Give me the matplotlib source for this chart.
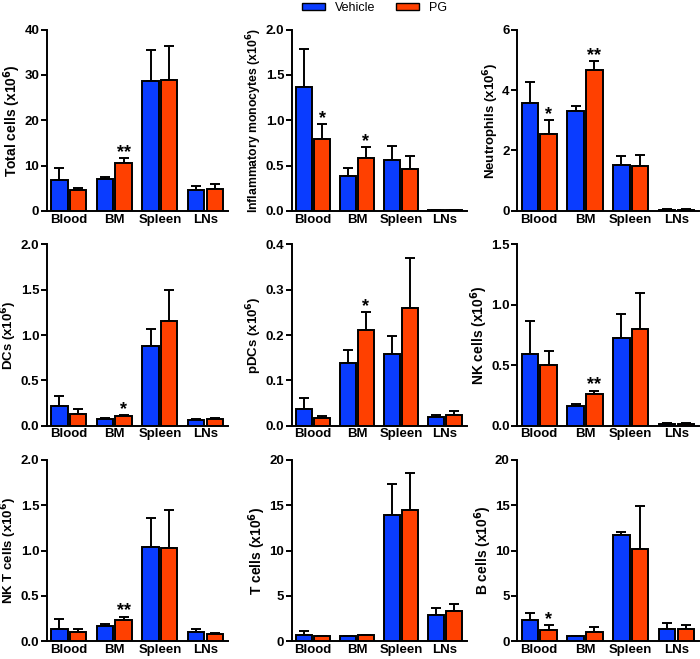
import matplotlib
matplotlib.use('Agg')
import matplotlib.pyplot as plt
import numpy as np
from matplotlib.patches import Patch

plt.rcParams['font.family'] = ['Liberation Sans', 'DejaVu Sans']
plt.rcParams['font.weight'] = 'bold'
plt.rcParams['axes.labelweight'] = 'bold'

tissues = ['Blood', 'BM', 'Spleen', 'LNs']
groups = ['Vehicle', 'PG']
veh_color = '#0a3cff'
pg_color = '#ff4000'

# means and SEM (x10^6 cells), order: Blood, BM, Spleen, LNs
total_veh = [6.9, 7.0, 28.7, 4.5]
total_veh_sem = [2.5, 0.5, 6.8, 1.0]
total_pg = [4.7, 10.6, 28.9, 4.9]
total_pg_sem = [0.25, 1.0, 7.6, 1.1]
total_stars = ['', '**', '', '']

mono_veh = [1.365, 0.38, 0.56, 0.005]
mono_veh_sem = [0.425, 0.09, 0.16, 0.003]
mono_pg = [0.79, 0.58, 0.46, 0.005]
mono_pg_sem = [0.17, 0.12, 0.15, 0.003]
mono_stars = ['*', '*', '', '']

neut_veh = [3.57, 3.3, 1.52, 0.035]
neut_veh_sem = [0.7, 0.18, 0.3, 0.015]
neut_pg = [2.55, 4.68, 1.5, 0.035]
neut_pg_sem = [0.45, 0.28, 0.35, 0.015]
neut_stars = ['*', '**', '', '']

dc_veh = [0.22, 0.078, 0.885, 0.06]
dc_veh_sem = [0.11, 0.012, 0.18, 0.01]
dc_pg = [0.125, 0.103, 1.155, 0.07]
dc_pg_sem = [0.055, 0.017, 0.345, 0.015]
dc_stars = ['', '*', '', '']

pdc_veh = [0.037, 0.138, 0.158, 0.019]
pdc_veh_sem = [0.024, 0.03, 0.039, 0.004]
pdc_pg = [0.018, 0.211, 0.26, 0.023]
pdc_pg_sem = [0.004, 0.04, 0.11, 0.009]
pdc_stars = ['', '*', '', '']

nk_veh = [0.59, 0.163, 0.727, 0.015]
nk_veh_sem = [0.28, 0.017, 0.2, 0.005]
nk_pg = [0.50, 0.26, 0.80, 0.015]
nk_pg_sem = [0.12, 0.03, 0.30, 0.005]
nk_stars = ['', '**', '', '']

nkt_veh = [0.137, 0.173, 1.04, 0.10]
nkt_veh_sem = [0.113, 0.022, 0.32, 0.03]
nkt_pg = [0.107, 0.23, 1.025, 0.077]
nkt_pg_sem = [0.033, 0.04, 0.42, 0.013]
nkt_stars = ['', '**', '', '']

t_veh = [0.74, 0.52, 13.9, 2.88]
t_veh_sem = [0.44, 0.08, 3.4, 0.82]
t_pg = [0.52, 0.66, 14.5, 3.28]
t_pg_sem = [0.08, 0.08, 4.06, 0.85]
t_stars = ['', '', '', '']

b_veh = [2.3, 0.59, 11.7, 1.32]
b_veh_sem = [0.8, 0.03, 0.4, 0.68]
b_pg = [1.29, 1.03, 10.15, 1.4]
b_pg_sem = [0.47, 0.51, 4.75, 0.44]
b_stars = ['*', '', '', '']

# label, data..., y max, y ticks, tick format, y-label font size
panels = [
    ('Total cells', total_veh, total_veh_sem, total_pg, total_pg_sem, total_stars, 40, [0, 10, 20, 30, 40], '{:.0f}', 10),
    ('Inflammatory monocytes', mono_veh, mono_veh_sem, mono_pg, mono_pg_sem, mono_stars, 2.0, [0, 0.5, 1.0, 1.5, 2.0], '{:.1f}', 8.8),
    ('Neutrophils', neut_veh, neut_veh_sem, neut_pg, neut_pg_sem, neut_stars, 6, [0, 2, 4, 6], '{:.0f}', 9.5),
    ('DCs', dc_veh, dc_veh_sem, dc_pg, dc_pg_sem, dc_stars, 2.0, [0, 0.5, 1.0, 1.5, 2.0], '{:.1f}', 9.5),
    ('pDCs', pdc_veh, pdc_veh_sem, pdc_pg, pdc_pg_sem, pdc_stars, 0.4, [0, 0.1, 0.2, 0.3, 0.4], '{:.1f}', 9.5),
    ('NK cells', nk_veh, nk_veh_sem, nk_pg, nk_pg_sem, nk_stars, 1.5, [0, 0.5, 1.0, 1.5], '{:.1f}', 10),
    ('NK T cells', nkt_veh, nkt_veh_sem, nkt_pg, nkt_pg_sem, nkt_stars, 2.0, [0, 0.5, 1.0, 1.5, 2.0], '{:.1f}', 9.5),
    ('T cells', t_veh, t_veh_sem, t_pg, t_pg_sem, t_stars, 20, [0, 5, 10, 15, 20], '{:.0f}', 10),
    ('B cells', b_veh, b_veh_sem, b_pg, b_pg_sem, b_stars, 20, [0, 5, 10, 15, 20], '{:.0f}', 10),
]

fig = plt.figure(figsize=(7.0, 6.59), dpi=100)

col_left = [0.067, 0.417, 0.739]
col_width = [0.259, 0.250, 0.260]
row_bottom = [0.680, 0.354, 0.027]
height = 0.275

x = np.arange(len(tissues))
w = 0.36
off = 0.205

for i, (name, veh, veh_sem, pg, pg_sem, stars, ymax, yticks, fmt, lsize) in enumerate(panels):
    r, c = divmod(i, 3)
    ax = fig.add_axes([col_left[c], row_bottom[r], col_width[c], height])
    for xs, vals, sem, col in [(x - off, veh, veh_sem, veh_color), (x + off, pg, pg_sem, pg_color)]:
        ax.errorbar(xs, vals, yerr=[np.zeros(len(vals)), sem], fmt='none',
                    ecolor='black', elinewidth=1.4, capsize=3.6, capthick=1.4, zorder=2)
        ax.bar(xs, vals, w, color=col, edgecolor='black', linewidth=1.4, zorder=3)
    for j, s in enumerate(stars):
        if s:
            ax.annotate(s, (x[j] + off, pg[j] + pg_sem[j]), xytext=(0, -2),
                        textcoords='offset points', ha='center', va='bottom',
                        fontsize=13, fontweight='bold')
    ax.set_xlim(-0.48, 3.5)
    ax.set_ylim(0, ymax)
    ax.set_yticks(yticks)
    ax.set_yticklabels([fmt.format(t) for t in yticks])
    ax.set_xticks(x)
    ax.set_xticklabels(tissues)
    ax.set_ylabel(name + ' (x10$^{\\mathbf{6}}$)', fontsize=lsize, fontweight='bold', labelpad=1)
    ax.spines['top'].set_visible(False)
    ax.spines['right'].set_visible(False)
    ax.spines['left'].set_linewidth(1.4)
    ax.spines['bottom'].set_linewidth(1.4)
    ax.tick_params(axis='y', direction='out', length=4, width=1.4, labelsize=9.5, pad=1.5)
    ax.tick_params(axis='x', length=0, labelsize=9.5, pad=2)

handles = [Patch(facecolor=veh_color, edgecolor='black', linewidth=1.0),
           Patch(facecolor=pg_color, edgecolor='black', linewidth=1.0)]
fig.legend(handles, groups, loc='center', bbox_to_anchor=(0.535, 0.988), ncol=2,
           frameon=False, prop={'family': 'Liberation Sans', 'weight': 'normal', 'size': 9},
           handlelength=1.9, handleheight=0.6, columnspacing=1.6, handletextpad=0.8)

plt.savefig('out.png', dpi=100)
